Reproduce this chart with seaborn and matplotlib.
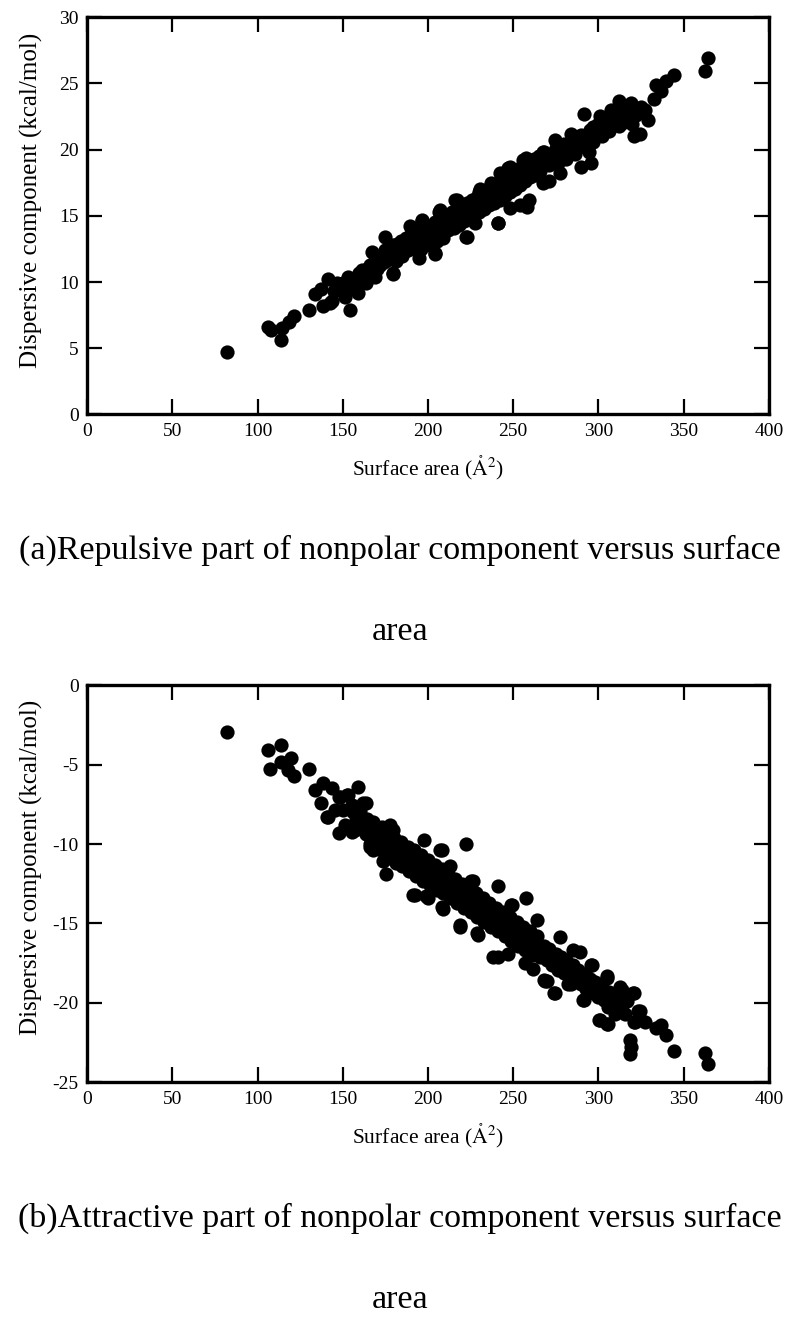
import matplotlib
matplotlib.use("Agg")
import matplotlib.pyplot as plt
import seaborn as sns
import pandas as pd

# ---------------- data ----------------
rep_x = [82.3, 105.9, 107.9, 113.8, 114.3, 118.2, 121.6, 130.0, 133.9, 137.3, 138.6, 141.2, 142.5, 143.7,
         146.5, 151.1, 153.0, 154.3, 158.8, 159.6, 163.5, 167.4, 168.7, 174.7, 179.2, 184.4, 189.7, 194.9,
         196.2, 204.0, 206.7, 215.8, 222.4, 227.6, 230.2, 236.8, 241.2, 242.0, 247.2, 248.0, 253.8, 257.7,
         259.0, 268.2, 270.8, 274.7, 277.4, 284.0, 289.7, 291.3, 294.4, 295.6, 297.0, 300.9, 307.4, 311.9,
         314.0, 319.3, 319.8, 320.6, 324.5, 327.6, 332.8, 333.7, 337.0, 339.7, 344.2, 362.5, 364.6,
         179.7, 204.0, 222.7, 241.2, 257.9, 267.6, 196.3, 207.0, 216.8, 230.5, 248.0, 255.9, 267.6,
         145, 148, 150, 152, 155, 156, 157,
         160, 161, 162, 164, 165, 166, 167, 169, 170, 171, 172, 173, 174, 175, 176, 177, 178, 179, 180,
         181, 182, 183, 184, 185, 186, 187, 188, 189, 190, 191, 192, 193, 194, 195, 196, 197, 198, 199,
         200, 201, 202, 203, 204, 205, 206, 207, 208, 209, 210, 211, 212, 213, 214, 215, 216, 217, 218,
         219, 220, 221, 222, 223, 224, 225, 226, 227, 228, 229, 230, 231, 232, 233, 234, 235, 236, 237,
         238, 239, 240, 241, 242, 243, 244, 245, 246, 247, 248, 249, 250, 251, 252, 253, 254, 255, 256,
         257, 258, 259, 260, 261, 262, 263, 264, 265, 266, 268, 270, 271, 273, 275, 276, 278, 280, 281,
         283, 285, 286, 288, 290, 292, 293, 295, 297, 298, 300, 302, 303, 305, 306, 308, 310, 312, 313,
         315, 317, 318, 322, 325, 329]
rep_y = [4.7, 6.6, 6.4, 5.65, 6.55, 7.0, 7.4, 7.9, 9.1, 9.5, 8.2, 10.2, 8.4, 8.55,
         9.9, 8.9, 10.4, 7.9, 9.2, 10.7, 9.9, 12.3, 10.4, 13.4, 10.6, 12.2, 14.2, 11.8,
         14.6, 12.1, 15.3, 16.2, 13.4, 14.45, 16.8, 17.5, 14.45, 18.2, 18.6, 15.6, 15.8, 19.35,
         16.2, 19.85, 17.6, 20.7, 18.2, 21.2, 18.7, 22.7, 19.85, 19.0, 21.7, 22.5, 23.0, 23.7,
         22.0, 23.5, 21.9, 21.0, 21.2, 23.0, 23.8, 24.9, 24.4, 25.2, 25.6, 25.9, 26.9,
         10.7, 12.2, 13.4, 14.45, 15.7, 17.5, 14.7, 15.45, 16.2, 17.0, 18.7, 19.2, 19.85,
         9.3, 9.6, 9.9, 9.4, 10.0, 9.6, 10.3,
         10.3, 10.9, 10.0, 11.0, 10.6, 11.3, 10.8, 11.6, 11.0, 11.9, 11.3, 12.0, 11.5, 12.4, 11.7, 12.6, 11.9, 12.8, 12.2,
         11.6, 12.9, 12.4, 13.1, 12.0, 12.7, 13.3, 12.4, 13.0, 13.6, 12.6, 13.2, 13.8, 12.8, 13.4, 12.5, 13.9, 13.1, 14.2,
         13.4, 12.8, 14.0, 13.6, 14.5, 13.1, 14.2, 13.7, 14.8, 13.3, 14.4, 15.0, 13.9, 14.6, 15.3, 14.1, 14.8, 15.5, 14.3,
         15.1, 15.8, 14.6, 15.3, 16.0, 14.8, 15.6, 16.2, 15.1, 15.8, 16.4, 15.3, 16.1, 16.7, 15.5, 16.3, 17.0, 15.8, 16.6,
         17.2, 16.0, 16.8, 17.5, 16.2, 17.1, 17.8, 16.5, 17.3, 17.9, 16.8, 17.6, 18.2, 17.0, 17.8, 18.5, 17.3, 18.1, 18.8,
         17.6, 18.4, 19.0, 17.9, 18.7, 19.3, 18.1, 18.9, 19.5, 18.4, 19.2, 19.7, 18.8, 19.5, 20.1, 19.0, 19.8, 20.4, 19.3,
         20.2, 20.8, 19.7, 20.5, 21.1, 20.2, 20.9, 21.5, 20.6, 21.3, 21.9, 21.0, 21.7, 22.3, 21.4, 22.1, 22.8, 21.8, 22.5,
         23.1, 22.3, 22.9, 22.6, 23.2, 22.2]

att_x = [82.3, 105.9, 113.7, 107.2, 119.8, 113.7, 117.7, 121.6, 130.0, 138.1, 133.4, 143.8, 137.3, 141.2,
         147.7, 153.0, 158.8, 147.7, 155.6, 163.5, 163.5, 166.1, 177.9, 175.2, 174.0, 192.2, 197.5, 198.8,
         208.0, 208.0, 222.4, 218.5, 225.0, 228.9, 241.0, 240.8, 248.6, 257.7, 261.6, 268.2, 274.2, 277.4,
         289.2, 291.3, 295.7, 304.9, 300.9, 304.9, 312.7, 320.6, 323.2, 320.6, 318.7, 319.2, 318.7, 327.1,
         333.7, 337.0, 339.7, 344.2, 362.5, 364.6, 305.4, 310.0, 314.0, 284.0, 282.6,
         145.5, 150.3, 155.2, 162.1, 151.3, 157.2, 160.1, 164.0, 164.0, 167.9, 166.0, 167.9, 172.8, 173.8,
         178.7, 180.6, 140.6, 148.4, 152.3,
         164.0, 179.7, 207.0, 212.9, 226.6, 249.1, 263.7, 285.2, 191.4, 200.2, 209.0, 218.8, 229.5, 238.3,
         247.1, 256.9, 268.6, 282.3,
         296.0, 304.8, 269.6, 274.5, 291.1, 313.6, 320.4, 324.3, 300.5, 305.8, 321.4, 310.6, 315.5, 312.6, 316.5,
         156, 158, 160, 161, 165, 169,
         170, 171, 172, 174, 175, 176, 177, 178, 180, 181, 182, 183, 184, 185, 186, 187, 188, 189, 190,
         191, 192, 193, 194, 195, 196, 197, 198, 199, 200, 201, 202, 203, 204, 205, 206, 207, 208, 209,
         210, 211, 212, 213, 214, 215, 216, 217, 218, 219, 220, 221, 222, 223, 224, 225, 226, 227, 228,
         229, 230, 231, 232, 233, 234, 235, 236, 237, 238, 239, 240, 241, 242, 243, 244, 245, 246, 247,
         248, 249, 250, 251, 252, 253, 254, 255, 256, 257, 258, 259, 260, 261, 262, 263, 264, 266, 268,
         270, 271, 273, 275, 276, 278, 280, 281, 283, 285, 286, 288, 290, 292, 293, 295, 297, 298, 300,
         302, 303, 306, 308, 309]
att_y = [-2.95, -4.1, -3.78, -5.25, -4.6, -4.83, -5.35, -5.75, -5.28, -6.13, -6.6, -6.5, -7.45, -8.3,
         -7.03, -6.93, -6.4, -9.3, -9.24, -7.45, -9.34, -10.18, -8.8, -11.86, -11.0, -13.2, -9.76, -13.3,
         -10.4, -13.96, -10.0, -15.2, -12.3, -15.6, -12.66, -17.1, -13.85, -13.4, -17.84, -18.58, -19.37, -15.85,
         -16.8, -19.84, -17.6, -18.3, -21.05, -21.3, -19.0, -19.4, -20.5, -21.2, -22.36, -22.8, -23.2, -21.2,
         -21.6, -21.4, -22.0, -23.0, -23.15, -23.87, -20.25, -20.7, -20.5, -18.8, -17.95,
         -7.87, -7.87, -7.56, -7.45, -8.8, -9.13, -8.19, -8.4, -9.24, -8.6, -9.97, -10.4, -8.92, -11.1,
         -9.76, -10.8, -8.33, -7.03, -6.93,
         -8.9, -9.1, -10.4, -11.4, -12.3, -13.85, -14.8, -16.7, -13.2, -13.4, -14.06, -15.1, -15.74, -17.1,
         -16.9, -17.5, -18.6, -18.8,
         -17.6, -18.4, -18.6, -19.4, -19.84, -19.2, -19.4, -20.5, -21.05, -21.3, -21.2, -20.4, -20.7, -19.84, -19.9,
         -8.0, -8.5, -7.9, -9.0, -9.2, -9.9,
         -9.6, -10.3, -9.2, -10.0, -9.5, -10.6, -9.9, -10.4, -9.6, -11.2, -10.1, -10.8, -9.9, -11.4, -10.5, -11.0, -10.2, -11.7, -10.8,
         -11.3, -10.4, -12.0, -11.1, -11.6, -10.7, -12.3, -11.4, -11.9, -11.0, -12.6, -11.7, -12.2, -11.3, -12.9, -12.0, -12.5, -11.6, -13.1,
         -12.3, -12.8, -11.9, -13.4, -12.6, -13.1, -12.2, -13.7, -12.9, -13.4, -12.5, -14.0, -13.2, -13.7, -12.8, -14.3, -13.5, -14.0, -13.1,
         -14.6, -13.8, -14.3, -13.4, -14.9, -14.1, -14.6, -13.7, -15.2, -14.4, -14.9, -14.0, -15.5, -14.7, -15.2, -14.3, -15.8, -15.0, -15.5,
         -14.6, -16.1, -15.3, -15.8, -14.9, -16.4, -15.6, -16.1, -15.2, -16.7, -15.9, -16.4, -15.5, -17.0, -16.2, -16.7, -15.8, -17.1, -16.4,
         -17.3, -16.6, -17.6, -16.9, -17.9, -17.1, -18.1, -17.3, -18.3, -17.6, -18.6, -17.9, -18.8, -18.2, -19.1, -18.5, -19.4, -18.7, -19.6,
         -19.0, -19.8, -19.3, -20.0, -19.5]

x_ticks = [0, 50, 100, 150, 200, 250, 300, 350, 400]
rep_yticks = [0, 5, 10, 15, 20, 25, 30]
att_yticks = [0, -5, -10, -15, -20, -25]
xlabel = r"Surface area ($\mathring{\mathrm{A}}^2$)"
ylabel = "Dispersive component (kcal/mol)"
captions = [("(a)Repulsive part of nonpolar component versus surface", "area"),
            ("(b)Attractive part of nonpolar component versus surface", "area")]

# ---------------- style ----------------
sns.set_style("ticks")
plt.rcParams["font.family"] = ["Liberation Serif", "DejaVu Serif"]
plt.rcParams["mathtext.fontset"] = "stix"
plt.rcParams["axes.unicode_minus"] = False
plt.rcParams["text.color"] = "black"
plt.rcParams["axes.labelcolor"] = "black"
plt.rcParams["xtick.color"] = "black"
plt.rcParams["ytick.color"] = "black"

fig = plt.figure(figsize=(8, 13.2), dpi=100)
ax1 = fig.add_axes([0.109, 0.686, 0.852, 0.301])
ax2 = fig.add_axes([0.109, 0.180, 0.852, 0.301])

rep_df = pd.DataFrame({"x": rep_x, "y": rep_y})
att_df = pd.DataFrame({"x": att_x, "y": att_y})

for ax, df, yt, ylim in [(ax1, rep_df, rep_yticks, (0, 30)), (ax2, att_df, att_yticks, (-25, 0))]:
    sns.scatterplot(data=df, x="x", y="y", ax=ax, color="black", s=105, linewidth=0, legend=False)
    ax.set_xlim(0, 400)
    ax.set_ylim(*ylim)
    ax.set_xticks(x_ticks)
    ax.set_yticks(yt)
    ax.tick_params(direction="in", length=11, width=1.6, top=True, right=True,
                   labelsize=14, pad=6, colors="black")
    for sp in ax.spines.values():
        sp.set_linewidth(2.4)
        sp.set_color("black")
    ax.set_xlabel(xlabel, fontsize=15.5, labelpad=10, color="black")
    ax.set_ylabel(ylabel, fontsize=18, color="black")
    ax.yaxis.set_label_coords(-0.065, 0.54)

# captions
cap_kw = dict(ha="center", va="center", fontsize=24.5, color="black")
fig.text(0.5, 1 - 550 / 1320, captions[0][0], **cap_kw)
fig.text(0.5, 1 - 632 / 1320, captions[0][1], **cap_kw)
fig.text(0.5, 1 - 1218 / 1320, captions[1][0], **cap_kw)
fig.text(0.5, 1 - 1300 / 1320, captions[1][1], **cap_kw)

fig.savefig("out.png", dpi=100)
